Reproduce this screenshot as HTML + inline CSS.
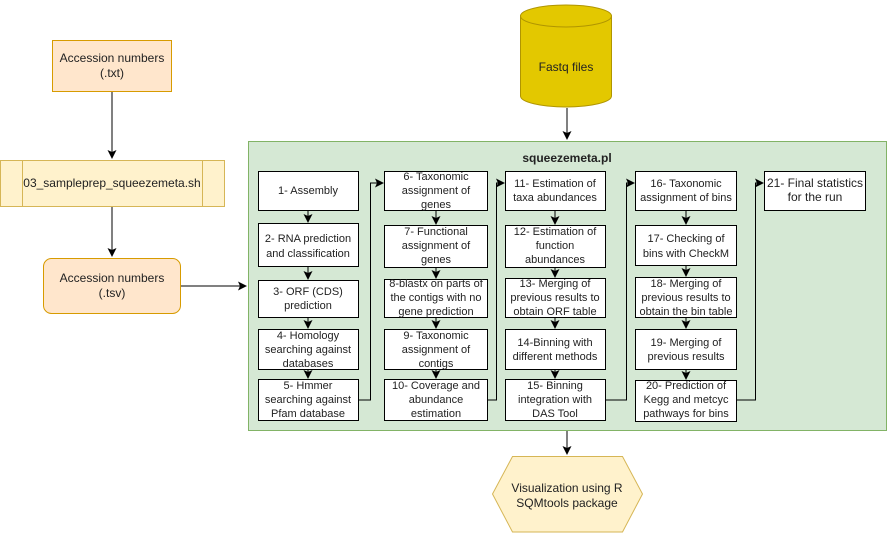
<!DOCTYPE html>
<html><head><meta charset="utf-8"><style>
html,body{margin:0;padding:0;background:#fff;}
svg{display:block;}
text{font-family:"Liberation Sans",Arial,sans-serif;font-size:11px;fill:#222;text-anchor:middle;}
.l{font-size:12px;}
</style></head><body>
<svg width="887" height="537" viewBox="0 0 887 537" xmlns="http://www.w3.org/2000/svg">
<defs>
<marker id="a" markerWidth="9" markerHeight="9" refX="8" refY="4.5" orient="auto" markerUnits="userSpaceOnUse">
<path d="M0,0 L9,4.5 L0,9 L2,4.5 Z" fill="#000"/></marker>
</defs>
<rect x="52.5" y="40.5" width="119" height="51" fill="#ffe6cc" stroke="#d79b00"/>
<text class="l" x="112" y="62">Accession numbers</text><text class="l" x="112" y="77">(.txt)</text>
<line x1="112" y1="92" x2="112" y2="158" stroke="#000" marker-end="url(#a)"/>
<rect x="0.5" y="160.5" width="224" height="46" fill="#fff2cc" stroke="#d6b656"/>
<line x1="22.5" y1="160" x2="22.5" y2="206" stroke="#d6b656"/>
<line x1="202.5" y1="160" x2="202.5" y2="206" stroke="#d6b656"/>
<text class="l" x="112" y="187">03_sampleprep_squeezemeta.sh</text>
<line x1="112" y1="207" x2="112" y2="256" stroke="#000" marker-end="url(#a)"/>
<rect x="43.5" y="258.5" width="137" height="55" rx="8" fill="#ffe6cc" stroke="#d79b00"/>
<text class="l" x="112" y="282">Accession numbers</text><text class="l" x="112" y="297">(.tsv)</text>
<line x1="181" y1="286" x2="246" y2="286" stroke="#000" marker-end="url(#a)"/>
<path d="M520.5,16 L520.5,96 A45.5,11 0 0 0 611.5,96 L611.5,16" fill="#e3c800" stroke="#b09500"/>
<ellipse cx="566" cy="16" rx="45.5" ry="11" fill="#e3c800" stroke="#b09500"/>
<text class="l" x="566" y="71">Fastq files</text>
<line x1="567" y1="108" x2="567" y2="139" stroke="#000" marker-end="url(#a)"/>
<rect x="248.5" y="141.5" width="638" height="289" fill="#d5e8d4" stroke="#82b366"/>
<text x="567" y="162" style="font-weight:bold;font-size:12px">squeezemeta.pl</text>
<g fill="#fff" stroke="#000">
<rect x="258.5" y="171.5" width="100" height="39"/>
<rect x="258.5" y="223.5" width="100" height="43"/>
<rect x="258.5" y="280.5" width="100" height="37"/>
<rect x="258.5" y="329.5" width="100" height="40"/>
<rect x="258.5" y="379.5" width="100" height="41"/>
<rect x="384.5" y="171.5" width="103" height="39"/>
<rect x="384.5" y="225.5" width="103" height="42"/>
<rect x="384.5" y="279.5" width="103" height="38"/>
<rect x="384.5" y="329.5" width="103" height="40"/>
<rect x="384.5" y="379.5" width="103" height="41"/>
<rect x="505.5" y="171.5" width="100" height="39"/>
<rect x="505.5" y="225.5" width="100" height="42"/>
<rect x="505.5" y="278.5" width="100" height="39"/>
<rect x="505.5" y="329.5" width="100" height="40"/>
<rect x="505.5" y="379.5" width="100" height="41"/>
<rect x="635.5" y="171.5" width="101" height="39"/>
<rect x="635.5" y="225.5" width="101" height="40"/>
<rect x="635.5" y="277.5" width="101" height="40"/>
<rect x="635.5" y="329.5" width="101" height="40"/>
<rect x="635.5" y="380.5" width="101" height="41"/>
<rect x="764.5" y="171.5" width="101" height="39"/>
</g>
<g stroke="#000" fill="none">
<line x1="308" y1="211" x2="308" y2="222" marker-end="url(#a)"/>
<line x1="308" y1="267" x2="308" y2="279" marker-end="url(#a)"/>
<line x1="308" y1="318" x2="308" y2="328" marker-end="url(#a)"/>
<line x1="308" y1="370" x2="308" y2="378" marker-end="url(#a)"/>
<line x1="436" y1="211" x2="436" y2="224" marker-end="url(#a)"/>
<line x1="436" y1="268" x2="436" y2="278" marker-end="url(#a)"/>
<line x1="436" y1="318" x2="436" y2="328" marker-end="url(#a)"/>
<line x1="436" y1="370" x2="436" y2="378" marker-end="url(#a)"/>
<line x1="555" y1="211" x2="555" y2="224" marker-end="url(#a)"/>
<line x1="555" y1="268" x2="555" y2="277" marker-end="url(#a)"/>
<line x1="555" y1="318" x2="555" y2="328" marker-end="url(#a)"/>
<line x1="555" y1="370" x2="555" y2="378" marker-end="url(#a)"/>
<line x1="686" y1="211" x2="686" y2="224" marker-end="url(#a)"/>
<line x1="686" y1="266" x2="686" y2="276" marker-end="url(#a)"/>
<line x1="686" y1="318" x2="686" y2="328" marker-end="url(#a)"/>
<line x1="686" y1="370" x2="686" y2="379" marker-end="url(#a)"/>
<polyline points="359,400 370.5,400 370.5,183 383,183" marker-end="url(#a)"/>
<polyline points="488,400 496.5,400 496.5,183 504,183" marker-end="url(#a)"/>
<polyline points="606,400 626.5,400 626.5,183 634,183" marker-end="url(#a)"/>
<polyline points="737,400 755.5,400 755.5,183 763,183" marker-end="url(#a)"/>
<line x1="567" y1="431" x2="567" y2="454" marker-end="url(#a)"/>
</g>
<text x="308" y="194">1- Assembly</text>
<text x="308" y="242">2- RNA prediction</text><text x="308" y="257">and classification</text>
<text x="308" y="295">3- ORF (CDS)</text><text x="308" y="309">prediction</text>
<text x="308" y="339">4- Homology</text><text x="308" y="353">searching against</text><text x="308" y="367">databases</text>
<text x="308" y="389">5- Hmmer</text><text x="308" y="403">searching against</text><text x="308" y="417">Pfam database</text>
<text x="436" y="180">6- Taxonomic</text><text x="436" y="194">assignment of</text><text x="436" y="208">genes</text>
<text x="436" y="235">7- Functional</text><text x="436" y="249">assignment of</text><text x="436" y="263">genes</text>
<text x="436" y="287">8-blastx on parts of</text><text x="436" y="301">the contigs with no</text><text x="436" y="315">gene prediction</text>
<text x="436" y="339">9- Taxonomic</text><text x="436" y="353">assignment of</text><text x="436" y="367">contigs</text>
<text x="436" y="389">10- Coverage and</text><text x="436" y="403">abundance</text><text x="436" y="417">estimation</text>
<text x="555" y="187">11- Estimation of</text><text x="555" y="201">taxa abundances</text>
<text x="555" y="235">12- Estimation of</text><text x="555" y="249">function</text><text x="555" y="263">abundances</text>
<text x="555" y="287">13- Merging of</text><text x="555" y="301">previous results to</text><text x="555" y="315">obtain ORF table</text>
<text x="555" y="346">14-Binning with</text><text x="555" y="360">different methods</text>
<text x="555" y="389">15- Binning</text><text x="555" y="403">integration with</text><text x="555" y="417">DAS Tool</text>
<text x="686" y="187">16- Taxonomic</text><text x="686" y="201">assignment of bins</text>
<text x="686" y="242">17- Checking of</text><text x="686" y="257">bins with CheckM</text>
<text x="686" y="287">18- Merging of</text><text x="686" y="301">previous results to</text><text x="686" y="315">obtain the bin table</text>
<text x="686" y="346">19- Merging of</text><text x="686" y="360">previous results</text>
<text x="686" y="389">20- Prediction of</text><text x="686" y="403">Kegg and metcyc</text><text x="686" y="417">pathways for bins</text>
<text x="815" y="187" style="font-size:12px">21- Final statistics</text><text x="815" y="201" style="font-size:12px">for the run</text>
<polygon points="512.5,456.5 622.5,456.5 642.5,494 622.5,532 512.5,532 492.5,494" fill="#fff2cc" stroke="#d6b656"/>
<text x="567" y="492" style="font-size:12px">Visualization using R</text>
<text x="567" y="507" style="font-size:12px">SQMtools package</text>
</svg>
</body></html>
